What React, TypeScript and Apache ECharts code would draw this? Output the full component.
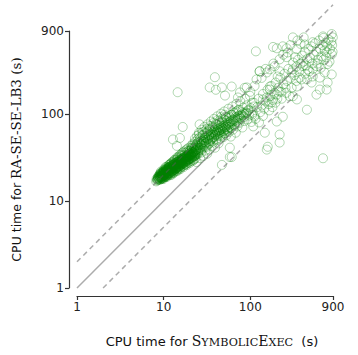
import React, { useEffect, useRef } from "react";
import * as echarts from "echarts";

// [SymbolicExec seconds, RA-SE-SE-LB3 seconds]
const coreRuns: number[][] = [
  [8.2,16.8],[8.3,18.0],[8.4,17.2],[8.5,18.1],[8.6,19.0],[8.6,17.6],[8.7,18.4],[8.8,19.6],[8.8,17.9],[8.9,18.8],[9.0,20.1],[9.0,17.5],
  [9.1,19.2],[9.1,18.3],[9.2,20.6],[9.2,17.8],[9.3,19.5],[9.3,18.7],[9.4,21.0],[9.4,18.1],[9.5,19.9],[9.5,18.9],
  [9.6,20.4],[9.6,17.9],[9.7,21.5],[9.7,19.1],[9.8,18.5],[9.8,20.8],[9.9,19.7],[9.9,22.1],[10.0,18.8],[10.0,20.3],
  [10.1,21.2],[10.1,19.4],[10.2,22.6],[10.2,18.6],[10.3,20.7],[10.3,19.8],[10.4,21.8],[10.5,18.9],[10.5,23.0],[10.6,20.1],
  [10.6,21.4],[10.7,19.3],[10.8,22.3],[10.8,20.6],[10.9,23.6],[11.0,19.6],[11.0,21.7],[11.1,22.8],[11.2,20.4],[11.2,24.1],
  [11.3,21.1],[11.4,19.9],[11.4,23.2],[11.5,22.0],[11.6,24.7],[11.6,20.8],[11.7,21.9],[11.8,23.7],[11.9,20.3],[12.0,22.6],
  [12.0,25.3],[12.1,21.4],[12.2,23.9],[12.3,20.9],[12.4,22.9],[12.5,25.8],[12.5,21.7],[12.6,24.4],[12.7,23.1],[12.8,21.2],
  [12.9,26.3],[13.0,22.4],[13.0,24.8],[13.1,23.5],[13.2,21.6],[13.3,26.9],[13.4,24.0],[13.5,22.7],[13.6,25.4],[13.7,23.2],
  [13.8,27.5],[13.9,24.6],[14.0,22.3],[14.1,26.0],[14.2,23.9],[14.3,28.2],[14.4,25.1],[14.5,23.4],[14.6,26.7],[14.7,24.5],
  [14.8,29.0],[14.9,25.8],[15.0,23.8],[15.2,27.3],[15.3,25.0],[15.4,29.6],[15.5,26.4],[15.6,24.2],[15.8,28.1],[15.9,26.0],
  [16.0,30.4],[16.1,27.2],[16.2,24.9],[16.4,28.9],[16.5,26.6],[16.6,31.2],[16.8,27.8],[16.9,25.5],[17.0,29.7],[17.2,27.1],
  [17.3,32.0],[17.5,28.6],[17.6,26.2],[17.8,30.5],[18.0,28.0],[18.1,33.1],[18.3,29.4],[18.5,27.0],[18.6,31.6],[18.8,29.0],
  [19.0,34.2],[19.2,30.3],[19.4,27.9],[19.6,32.7],[19.8,30.0],[20.0,35.4],[20.2,31.3],[20.5,28.8],[20.7,33.8],[21.0,31.0],
  [21.2,36.6],[21.5,32.4],[21.8,29.9],[22.0,35.0],[22.3,32.1],[22.6,37.8],[22.9,33.6],[23.2,31.0],[23.5,36.2],[23.8,39.1],
  [24.2,34.8],[9.4,19.3],[10.4,20.5],[11.3,22.5],[12.2,22.0],[13.1,25.6],[14.0,24.2],[15.1,26.9],[16.3,27.9],[17.7,29.2],
  [9.0,18.9],[9.6,19.4],[10.2,20.9],[10.9,21.3],[11.5,23.3],[12.1,23.4],[12.7,24.9],[13.4,25.7],[14.2,26.4],[15.0,28.2],
  [15.7,29.3],[16.5,30.1],[17.4,30.9],[18.2,32.4],[19.1,33.0],[20.1,33.6],[21.1,34.7],[22.2,36.4],[23.3,38.0],[24.5,39.6],
  [11.8,26.5],[13.2,28.6],[14.6,31.0],[16.1,33.6],[17.6,35.8],[19.3,37.9],[21.0,40.5],[12.4,20.1],[14.9,22.9],[17.9,26.5]
];

const coreDenseRuns: number[][] = [
  [8.5,17.5],[8.7,18.8],[8.9,17.7],[9.1,19.8],[9.2,18.5],[9.4,20.4],[9.5,18.4],[9.7,20.0],[9.8,19.2],[10.0,21.6],
  [10.1,19.9],[10.3,21.1],[10.4,19.2],[10.6,22.3],[10.7,20.9],[10.9,20.0],[11.0,23.1],[11.2,21.8],[11.3,20.6],[11.5,24.0],
  [11.6,22.4],[11.8,21.1],[11.9,24.6],[12.1,22.9],[12.3,21.9],[12.4,25.4],[12.6,23.6],[12.8,22.5],[12.9,25.9],[13.1,24.2],
  [13.3,23.1],[13.5,26.5],[13.7,24.9],[13.8,23.7],[14.0,27.2],[14.2,25.6],[14.4,24.4],[14.6,27.9],[14.8,26.3],[15.0,25.1],
  [15.2,28.6],[15.4,27.0],[15.6,25.8],[15.8,29.4],[16.0,27.8],[16.2,26.6],[16.5,30.2],[16.7,28.5],[16.9,27.3],[17.2,31.0],
  [17.4,29.3],[17.7,28.1],[17.9,31.9],[18.2,30.2],[18.5,28.9],[18.7,32.8],[19.0,31.1],[19.3,29.7],[19.6,33.7],[19.9,32.0],
  [20.2,30.6],[20.5,34.6],[20.9,32.9],[21.2,31.5],[21.6,35.6],[21.9,33.9],[22.3,32.5],[22.7,36.7],[23.1,35.0],[23.5,33.5],
  [10.5,24.5],[11.4,25.8],[12.3,27.6],[13.2,29.5],[14.3,31.6],[15.4,33.7],[16.6,35.9],[17.9,38.2],[19.3,40.6],[20.8,43.1],
  [9.3,21.8],[10.0,23.0],[10.8,24.6],[11.7,26.2],[12.6,28.0],[13.6,30.0],[14.7,32.2],[15.9,34.5],[17.1,36.9],[18.5,39.4],
  [9.9,17.9],[10.9,18.9],[11.9,19.8],[13.0,20.9],[14.2,22.0],[15.5,23.2],[16.9,24.5],[18.4,25.9],[20.0,27.4],[21.7,29.0]
];

const coreExtraRuns: number[][] = [
  [8.6,18.3],[8.9,19.3],[9.2,19.0],[9.5,20.8],[9.8,19.8],[10.1,22.0],[10.4,21.3],[10.7,22.9],[11.0,22.2],[11.3,23.9],
  [11.7,23.1],[12.0,24.9],[12.4,24.1],[12.8,26.0],[13.2,25.1],[13.6,27.1],[14.0,26.2],[14.4,28.3],[14.9,27.3],[15.3,29.5],
  [15.8,28.5],[16.3,30.8],[16.8,29.7],[17.3,32.1],[17.8,31.0],[18.4,33.5],[19.0,32.3],[19.6,34.9],[20.2,33.7],[20.9,36.4],
  [9.1,20.9],[9.9,21.1],[10.6,23.6],[11.4,24.4],[12.2,26.7],[13.1,27.4],[14.1,29.8],[15.1,30.6],[16.2,33.0],[17.4,34.0],
  [18.7,36.4],[20.0,37.6],[21.4,39.9],[22.9,41.5],[24.4,43.9],[9.6,18.2],[10.6,19.6],[11.6,21.0],[12.7,22.2],[13.9,23.8],
  [15.2,25.3],[16.6,27.0],[18.1,28.6],[19.7,30.4],[21.4,32.4],[23.2,34.3],[25.1,36.6],[25.9,40.8],[27.3,44.5],[28.9,47.8]
];

const bandRuns: number[][] = [
  [22,44],[22.5,30],[23,52],[23.4,38],[23.8,45],[24,28],[24.3,56],[24.7,41],[25,35],[25.2,48],
  [25.6,61],[26,39],[26.3,31],[26.5,52],[26.9,44],[27.2,36],[27.5,66],[27.8,47],[28,40],[28.4,57],
  [28.7,33],[29,50],[29.3,43],[29.6,71],[30,54],[30.3,38],[30.6,46],[31,60],[31.4,42],[31.8,35],
  [32,76],[32.3,51],[32.7,63],[33,45],[33.5,56],[33.8,39],[34,68],[34.5,49],[35,82],[35.3,58],
  [35.8,43],[36.2,52],[36.6,72],[37,61],[37.5,47],[38,88],[38.4,55],[38.8,66],[39.2,41],[39.6,58],
  [40,77],[40.5,50],[41,63],[41.5,94],[42,56],[42.5,70],[43,46],[43.5,60],[44,83],[44.5,65],
  [45,52],[45.5,74],[46,101],[46.6,58],[47.2,68],[47.8,88],[48.4,54],[49,63],[49.6,79],[50,107],
  [50.7,60],[51.4,71],[52,93],[52.8,57],[53.5,84],[54.2,66],[55,76],[55.8,115],[56.5,62],[57.3,90],
  [58,71],[58.8,82],[59.6,55],[60.4,98],[61.2,74],[62,122],[63,66],[64,86],[65,104],[66,77],
  [67,93],[68,61],[69,131],[70,84],[71,72],[72,110],[73.5,96],[75,79],[76.5,140],[78,88],
  [79.5,105],[81,70],[82.5,118],[84,92],[85.5,83],[87,150],[89,101],[91,126],[93,87],[95,112],
  [97,96],[99,162],[101,117],[103,81],[105,135],[107,104],[110,122],[112,94]
];

const bandDenseRuns: number[][] = [
  [19.5,36],[20.3,38],[21.1,41],[21.6,37],[22.4,40],[23.1,43],[23.7,41],[24.4,46],[25.1,43],[25.8,47],
  [26.4,45],[27.1,49],[27.7,46],[28.5,51],[29.1,48],[29.9,53],[30.7,50],[31.5,55],[32.2,52],[33.1,57],
  [33.9,54],[34.8,59],[35.6,56],[36.5,61],[37.4,58],[38.3,63],[39.3,60],[40.2,65],[41.2,62],[42.3,67],
  [43.3,64],[44.4,69],[45.5,66],[46.7,71],[47.9,68],[49.1,73],[50.3,70],[51.6,75],[52.9,72],[54.3,78],
  [55.7,75],[57.1,80],[58.6,77],[60.1,83],[61.7,80],[63.3,86],[65.0,83],[66.8,89],[68.6,86],[70.5,92],
  [72.4,89],[74.5,95],[76.6,92],[78.8,98],[81.1,96],[83.5,102],[86.0,99],[88.6,105],[91.3,103],[94.1,109],
  [20.8,34],[22.0,36],[23.5,39],[24.9,38],[26.2,41],[27.5,43],[29.5,45],[31.0,47],[32.8,48],[34.5,51],
  [36.0,53],[38.0,54],[40.0,57],[42.0,59],[44.0,61],[46.2,62],[48.5,64],[51.0,66],[53.5,68],[56.0,70],
  [21.5,45],[23.0,48],[24.6,51],[26.0,54],[27.9,57],[29.8,60],[31.8,63],[34.0,66],[36.3,69],[38.7,72],
  [41.3,76],[44.0,79],[47.0,82],[50.1,86],[53.4,90],[57.0,94],[60.8,98],[64.8,102],[69.1,107],[73.7,112],
  [25.5,58],[28.2,62],[31.2,67],[34.3,73],[37.7,79],[41.8,85],[46.0,92],[50.6,98],[22.8,33],[26.8,38],
  [30.2,42],[33.6,46],[37.1,49],[41.0,52],[45.2,56],[49.8,60],[54.8,64],[60.3,69],[66.0,74],[72.0,80]
];

const spreadRuns: number[][] = [
  [116,525],[202,570],[263,570],[310,760],[413,760],[690,780],[870,830],[760,510],[870,485],[525,670],
  [345,555],[270,510],[218,425],[263,450],[330,450],[405,355],[460,326],[580,355],[780,375],[720,300],
  [780,230],[760,191],[580,167],[634,191],[510,230],[372,262],[310,326],[218,310],[168,326],[128,310],
  [118,250],[168,191],[202,167],[155,155],[237,93],[202,82],[218,58],[218,47],[159,42],[155,39],
  [147,61],[690,31],[345,147],[450,112],[285,160],[345,207],[450,250],[525,270],[634,262],[870,285],
  [105,98],[110,135],[115,88],[120,120],[125,150],[130,105],[135,125],[140,170],[145,115],[150,140],
  [158,190],[162,130],[170,160],[175,210],[182,145],[190,175],[196,230],[205,150],[210,200],[222,260],
  [228,180],[240,220],[248,290],[255,200],[265,240],[275,330],[290,260],[300,300],[312,390],[325,280],
  [340,350],[355,420],[368,310],[380,380],[395,470],[410,400],[425,520],[440,360],[455,430],[470,560],
  [490,440],[505,600],[520,380],[540,480],[560,650],[580,520],[600,420],[620,700],[640,560],[660,460],
  [680,620],[700,750],[720,540],[740,660],[770,600],[800,720],[830,560],[860,680],[880,620],[895,760],
  [108,72],[126,80],[140,95],[165,110],[180,120],[195,135],[230,150],[260,175],[300,200],[340,240],
  [390,250],[430,290],[480,310],[530,330],[600,380],[650,340],[700,420],[750,450],[820,400],[890,520],
  [100,180],[112,210],[135,260],[150,330],[185,380],[240,480],[290,620],[350,700],[380,640],
  [183,590],[237,600],[425,630],[191,355],[155,300],[207,270],[168,207],[218,181],[310,160],[140,147],[177,136]
];

const outlierRuns: number[][] = [
  [14.5,178],[15.4,53],[14.2,43],[12.8,51],[16.6,71],[26,76],[39,265],[34,202],[40,190],[47,202],
  [61,207],[51,163],[91,202],[76,177],[72,155],[86,200],[47,26],[58,32],[58,41],[61,32],[128,310]
];

const diagonal: number[][] = [[1, 1], [900, 900]];
const twiceLine: number[][] = [[1, 2], [900, 1800]];
const halfLine: number[][] = [[2, 1], [1800, 900]];
const tickValues = [1, 10, 100, 900];

export default function App() {
  const ref = useRef<HTMLDivElement>(null);
  useEffect(() => {
    if (!ref.current) return;
    const chart = echarts.init(ref.current, undefined, { renderer: "svg" });
    const axisCommon = {
      type: "log" as const,
      logBase: 10,
      min: 1,
      max: 900,
      offset: 8,
      axisLine: { show: true, lineStyle: { color: "#333", width: 1.2 } },
      axisTick: { show: true, length: 4, inside: false, customValues: tickValues, lineStyle: { color: "#333", width: 1.2 } },
      axisLabel: { customValues: tickValues, fontFamily: "DejaVu Sans", fontSize: 12, color: "#222", margin: 5 },
      splitLine: { show: false },
      minorTick: { show: false },
      nameLocation: "middle" as const,
    };
    const circleStyle = {
      color: "rgba(0,0,0,0)",
      borderColor: "rgba(0,128,0,0.38)",
      borderWidth: 1,
    };
    const lineStyleBase = { color: "rgba(90,90,90,0.5)", width: 1.5 };
    const scatter = (data: number[][]) => ({
      type: "scatter", data, symbol: "circle", symbolSize: 9, itemStyle: circleStyle, silent: true,
    });
    chart.setOption({
      animation: false,
      grid: { left: 77, right: 25, top: 31, bottom: 67 },
      xAxis: {
        ...axisCommon,
        name: "{a|CPU time for }{b|S}{c|YMBOLIC}{b|E}{c|XEC}{a|  (s)}",
        nameGap: 36,
        nameTextStyle: {
          padding: [0, 0, 0, 14],
          rich: {
            a: { fontFamily: "DejaVu Sans", fontSize: 13, color: "#111", verticalAlign: "bottom", lineHeight: 16 },
            b: { fontFamily: "DejaVu Serif", fontSize: 14, color: "#111", verticalAlign: "bottom", lineHeight: 16 },
            c: { fontFamily: "DejaVu Serif", fontSize: 11.2, color: "#111", verticalAlign: "bottom", lineHeight: 15.4 },
          },
        },
      },
      yAxis: {
        ...axisCommon,
        name: "{a|CPU time for }{b|RA-SE-SE-LB3 (s)}",
        nameGap: 46,
        nameRotate: 90,
        nameTextStyle: {
          rich: {
            a: { fontFamily: "DejaVu Sans", fontSize: 12.5, color: "#111", verticalAlign: "bottom", lineHeight: 15 },
            b: { fontFamily: "DejaVu Serif", fontSize: 13.5, color: "#111", verticalAlign: "bottom", lineHeight: 15 },
          },
        },
      },
      series: [
        scatter(coreRuns),
        scatter(coreDenseRuns),
        scatter(coreExtraRuns),
        scatter(bandRuns),
        scatter(bandDenseRuns),
        scatter(spreadRuns),
        scatter(outlierRuns),
        { type: "line", data: diagonal, symbol: "none", clip: false, lineStyle: { ...lineStyleBase }, z: 5, silent: true },
        { type: "line", data: twiceLine, symbol: "none", clip: false, lineStyle: { ...lineStyleBase, type: [5, 4] }, z: 5, silent: true },
        { type: "line", data: halfLine, symbol: "none", clip: false, lineStyle: { ...lineStyleBase, type: [5, 4] }, z: 5, silent: true },
      ],
    });
    return () => chart.dispose();
  }, []);
  return <div ref={ref} style={{ width: 358, height: 355, position: "absolute", left: 0, top: 0 }} />;
}
